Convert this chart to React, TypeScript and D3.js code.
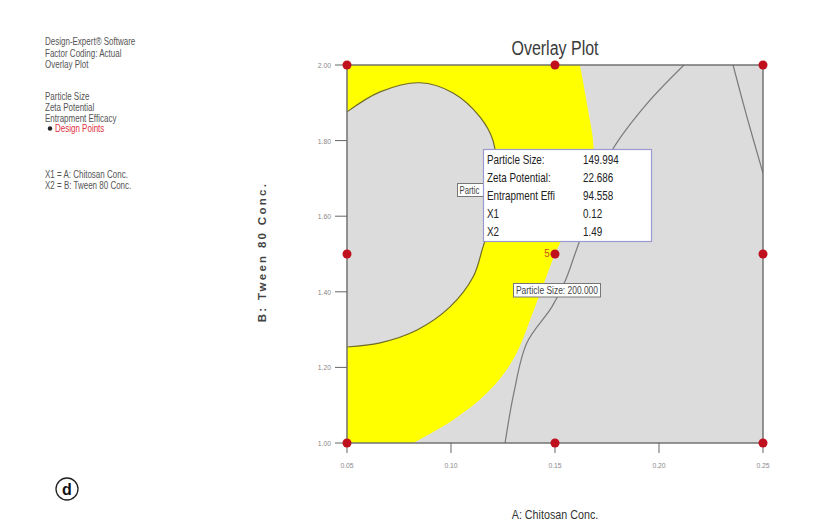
import React from 'react';
import * as d3 from 'd3';

// axis ticks
const xTicks = [0.05, 0.1, 0.15, 0.2, 0.25];
const yTicks = [1.0, 1.2, 1.4, 1.6, 1.8, 2.0];

// design points (factorial grid)
const designX = [0.05, 0.15, 0.25];
const designY = [1.0, 1.5, 2.0];

// yellow region: right boundary, top -> bottom (A, B)
const yellowEdge: [number, number][] = [
  [0.162, 2.0],
  [0.1659, 1.881],
  [0.1685, 1.78],
  [0.166, 1.68],
  [0.1596, 1.6],
  [0.1525, 1.53],
  [0.15, 1.5],
  [0.1404, 1.36],
  [0.1298, 1.22],
  [0.1173, 1.132],
  [0.101, 1.061],
  [0.0817, 1.0],
];

// inner grey region boundary (particle size contour)
const innerEdge: [number, number][] = [
  [0.05, 1.876],
  [0.0659, 1.929],
  [0.085, 1.953],
  [0.101, 1.926],
  [0.114, 1.862],
  [0.1202, 1.8],
  [0.122, 1.7],
  [0.12, 1.6],
  [0.1154, 1.519],
  [0.1106, 1.439],
  [0.0995, 1.36],
  [0.0837, 1.299],
  [0.0659, 1.265],
  [0.05, 1.254],
];

// other contour lines
const contourA: [number, number][] = [
  [0.126, 1.0],
  [0.1302, 1.132],
  [0.1365, 1.265],
  [0.1485, 1.36],
  [0.155, 1.43],
  [0.1596, 1.5],
  [0.166, 1.6],
  [0.176, 1.76],
  [0.193, 1.89],
  [0.212, 2.0],
];
const contourB: [number, number][] = [
  [0.2356, 2.0],
  [0.2423, 1.862],
  [0.25, 1.714],
];

const tipLabels = ['Particle Size:', 'Zeta Potential:', 'Entrapment Effi', 'X1', 'X2'];
const tipValues = ['149.994', '22.686', '94.558', '0.12', '1.49'];

const infoTop = ['Design-Expert® Software', 'Factor Coding: Actual', 'Overlay Plot'];
const infoResp = ['Particle Size', 'Zeta Potential', 'Entrapment Efficacy'];
const infoFactors = ['X1 = A: Chitosan Conc.', 'X2 = B: Tween 80 Conc.'];

const FONT = '"Liberation Sans", Arial, sans-serif';

// narrow text: squeeze horizontally to mimic Arial Narrow
function NT(props: any) {
  const { x, y, sx = 0.8, children, ...rest } = props;
  return (
    <text transform={`translate(${x},${y}) scale(${sx},1)`} {...rest}>
      {children}
    </text>
  );
}

export default function App() {
  const x = d3.scaleLinear().domain([0.05, 0.25]).range([347, 763]);
  const y = d3.scaleLinear().domain([1.0, 2.0]).range([443, 65]);

  const curve = d3
    .line<[number, number]>()
    .x((d) => x(d[0]))
    .y((d) => y(d[1]))
    .curve(d3.curveCatmullRom.alpha(0.5));

  const yellowPath =
    `M${x(0.05)},${y(2.0)}L` + (curve(yellowEdge) || '').slice(1) + `L${x(0.05)},${y(1.0)}Z`;
  const innerPath = (curve(innerEdge) || '') + 'Z';

  const grid: [number, number][] = [];
  designY.forEach((b) => designX.forEach((a) => grid.push([a, b])));

  return (
    <svg
      width={818}
      height={527}
      fontFamily={FONT}
      style={{ position: 'absolute', left: 0, top: 0, background: '#fff' }}
    >
      <defs>
        <clipPath id="plot">
          <rect x={x(0.05)} y={y(2)} width={x(0.25) - x(0.05)} height={y(1) - y(2)} />
        </clipPath>
      </defs>

      {/* left info block */}
      <g fontSize={10} fill="#555">
        {infoTop.map((t, i) => (
          <NT key={t} x={45} y={45 + i * 11.7}>{t}</NT>
        ))}
        {infoResp.map((t, i) => (
          <NT key={t} x={45} y={99.5 + i * 11}>{t}</NT>
        ))}
        <circle cx={50} cy={128.5} r={2.2} fill="#222" />
        <NT x={55} y={132} fill="#e03040">Design Points</NT>
        {infoFactors.map((t, i) => (
          <NT key={t} x={45} y={177.5 + i * 11.7}>{t}</NT>
        ))}
      </g>

      {/* plot body */}
      <g clipPath="url(#plot)">
        <rect x={x(0.05)} y={y(2)} width={x(0.25) - x(0.05)} height={y(1) - y(2)} fill="#dcdcdc" />
        <path d={yellowPath} fill="#ffff00" />
        <path d={innerPath} fill="#dcdcdc" />
        <path d={curve(innerEdge) || ''} fill="none" stroke="#6e6a2a" strokeWidth={1.2} />
        <path d={curve(contourA) || ''} fill="none" stroke="#7a7a7a" strokeWidth={1.2} />
        <path d={curve(contourB) || ''} fill="none" stroke="#7a7a7a" strokeWidth={1.2} />
      </g>
      <rect
        x={x(0.05)}
        y={y(2)}
        width={x(0.25) - x(0.05)}
        height={y(1) - y(2)}
        fill="none"
        stroke="#6a6a6a"
        strokeWidth={1.4}
      />

      {/* axes */}
      <g fontSize={8} fill="#888">
        {yTicks.map((t) => (
          <g key={t}>
            <line x1={x(0.05) - 12} x2={x(0.05)} y1={y(t)} y2={y(t)} stroke="#666" />
            <NT x={331} y={y(t) + 3} sx={0.85} textAnchor="end">{t.toFixed(2)}</NT>
          </g>
        ))}
        {xTicks.map((t) => (
          <g key={t}>
            <line x1={x(t)} x2={x(t)} y1={y(1)} y2={y(1) + 10} stroke="#666" />
            <NT x={x(t)} y={468} sx={0.85} textAnchor="middle">{t.toFixed(2)}</NT>
          </g>
        ))}
      </g>

      <NT x={555} y={55} sx={0.82} textAnchor="middle" fontSize={19.5} fill="#3a3a3a">
        Overlay Plot
      </NT>
      <NT x={555} y={519} sx={0.86} textAnchor="middle" fontSize={12.5} fill="#333">
        A: Chitosan Conc.
      </NT>
      <text
        transform="translate(266,252) rotate(-90)"
        textAnchor="middle"
        fontWeight="bold"
        fontSize={11.5}
        fill="#444"
        letterSpacing={2.3}
      >
        B: Tween 80 Conc.
      </text>

      {/* design points */}
      {grid.map(([a, b]) => (
        <circle key={`${a}-${b}`} cx={x(a)} cy={y(b)} r={4.5} fill="#c0101e" />
      ))}
      <text x={547} y={257} textAnchor="middle" fontSize={10} fill="#c8501a">5</text>

      {/* contour labels */}
      <g fontSize={10} fill="#444">
        <rect x={457.5} y={183.5} width={26} height={13} fill="#fff" stroke="#777" />
        <NT x={459.5} y={194} sx={0.78}>Partic</NT>
        <rect x={513.5} y={283.5} width={87} height={13.5} fill="#fff" stroke="#777" />
        <text x={516} y={294} textLength={82} lengthAdjust="spacingAndGlyphs">Particle Size: 200.000</text>
      </g>

      {/* tooltip */}
      <rect x={483.5} y={149.5} width={168} height={92} fill="#fff" stroke="#9a9ad0" strokeWidth={1.2} />
      <g fontSize={13} fill="#222">
        {tipLabels.map((t, i) => (
          <NT key={t} x={487} y={164 + i * 18.1} sx={0.76}>{t}</NT>
        ))}
        {tipValues.map((t, i) => (
          <NT key={t} x={583} y={164 + i * 18.1} sx={0.76}>{t}</NT>
        ))}
      </g>

      {/* panel letter */}
      <circle cx={67} cy={489} r={11} fill="none" stroke="#222" strokeWidth={1.3} />
      <text x={67} y={495} textAnchor="middle" fontWeight="bold" fontSize={16} fill="#111">d</text>
    </svg>
  );
}
